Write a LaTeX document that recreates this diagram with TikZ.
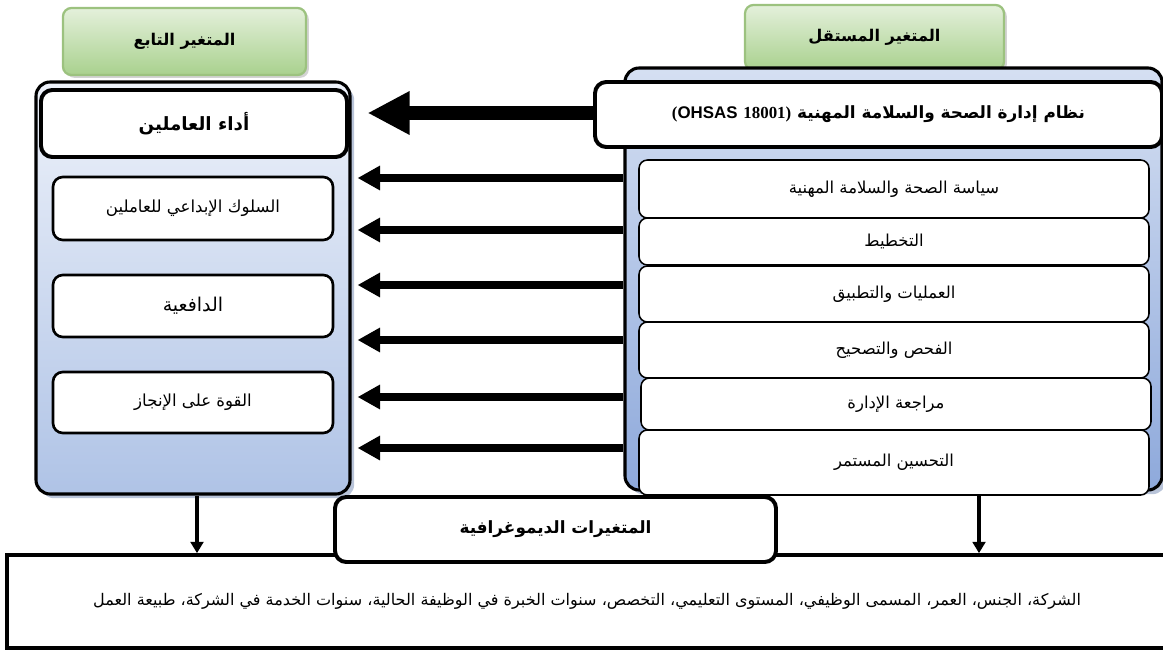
\documentclass[tikz,border=0pt]{standalone}
\usepackage{fontspec}
\newfontfamily\arabicfont[Script=Arabic]{DejaVu Sans}
\newfontfamily\latinsans{Liberation Sans}
\newfontfamily\latinserif{Liberation Serif}
\TeXXeTstate=1
\usetikzlibrary{arrows.meta,shadows}
\definecolor{grtop}{HTML}{E4F0DB}
\definecolor{grbot}{HTML}{A9D18E}
\definecolor{grline}{HTML}{9CC27F}
\definecolor{bltop}{HTML}{EEF2FA}
\definecolor{blbot}{HTML}{AFC3E6}
\definecolor{bldark}{HTML}{8EA9DB}
\newcommand{\artxt}[1]{{\arabicfont\beginR #1\endR}}
\tikzset{
  titlebox/.style={draw=grline, line width=1.6pt, rounded corners=6pt, top color=grtop, bottom color=grbot,
    drop shadow={opacity=0.35, shadow xshift=2pt, shadow yshift=-2pt}, font=\arabicfont\bfseries\fontsize{11.5}{14}\selectfont},
  frame/.style={draw, line width=2.2pt, rounded corners=10pt, drop shadow={fill=bldark!70!gray, opacity=0.6, shadow xshift=3pt, shadow yshift=-3pt}},
  headbox/.style={draw, fill=white, line width=2.8pt, rounded corners=8pt, font=\arabicfont\bfseries\fontsize{12}{15}\selectfont},
  subbox/.style={draw, fill=white, line width=1.9pt, rounded corners=7pt, font=\arabicfont\fontsize{11.8}{14}\selectfont},
  stepbox/.style={draw, fill=white, line width=1.1pt, rounded corners=6pt, font=\arabicfont\fontsize{11.7}{14}\selectfont},
  bigarr/.style={line width=9.5pt, -{Triangle[length=30pt, width=29pt]}},
  arr/.style={line width=5.8pt, -{Triangle[length=16pt, width=16.5pt]}},
  downarr/.style={line width=3pt, -{Triangle[length=8pt, width=9pt]}}
}
\begin{document}
\begin{tikzpicture}[x=0.025cm, y=-0.025cm]
\useasboundingbox (0,0) rectangle (1163,650);

% the two titles
\node[titlebox, minimum width=243*0.025cm, minimum height=67*0.025cm] (T1) at (184.5,41.5) {\artxt{المتغير التابع}};
\node[titlebox, minimum width=259*0.025cm, minimum height=65*0.025cm] (T2) at (874.5,37.5) {\artxt{المتغير المستقل}};

% dependent variable
\node[frame, top color=bltop, bottom color=blbot, minimum width=314*0.025cm, minimum height=412*0.025cm] (LC) at (193,288) {};
\node[headbox, minimum width=306*0.025cm, minimum height=67*0.025cm, font=\arabicfont\bfseries\fontsize{13}{15}\selectfont] (L0) at (194,123.5) {\artxt{أداء العاملين}};
\node[subbox, minimum width=280*0.025cm, minimum height=63*0.025cm] (L1) at (193,208.5) {\artxt{السلوك الإبداعي للعاملين}};
\node[subbox, minimum width=280*0.025cm, minimum height=62*0.025cm, font=\arabicfont\fontsize{13.5}{16}\selectfont] (L2) at (193,306) {\artxt{الدافعية}};
\node[subbox, minimum width=280*0.025cm, minimum height=61*0.025cm] (L3) at (193,402.5) {\artxt{القوة على الإنجاز}};

% independent variable
\node[frame, shading angle=20, top color=bltop!60!blbot, bottom color=bldark, minimum width=537*0.025cm, minimum height=422*0.025cm] (RC) at (893.5,279) {};
\node[headbox, minimum width=567*0.025cm, minimum height=65*0.025cm] (R0) at (878.5,114.5)
  {{\latinserif\bfseries(}{\latinsans\bfseries OHSAS} {\latinserif\bfseries 18001)} \artxt{نظام إدارة الصحة والسلامة المهنية}};
\node[stepbox, minimum width=510*0.025cm, minimum height=58*0.025cm] (R1) at (894,189) {\artxt{سياسة الصحة والسلامة المهنية}};
\node[stepbox, minimum width=510*0.025cm, minimum height=47*0.025cm] (R2) at (894,241.5) {\artxt{التخطيط}};
\node[stepbox, minimum width=510*0.025cm, minimum height=56*0.025cm] (R3) at (894,294) {\artxt{العمليات والتطبيق}};
\node[stepbox, minimum width=510*0.025cm, minimum height=56*0.025cm] (R4) at (894,350) {\artxt{الفحص والتصحيح}};
\node[stepbox, minimum width=510*0.025cm, minimum height=52*0.025cm] (R5) at (896,404) {\artxt{مراجعة الإدارة}};
\node[stepbox, minimum width=510*0.025cm, minimum height=65*0.025cm] (R6) at (894,462.5) {\artxt{التحسين المستمر}};

% demographic variables
\node[draw, fill=white, line width=2.6pt, minimum width=1160*0.025cm, minimum height=93*0.025cm,
  font=\arabicfont\fontsize{11.4}{14}\selectfont] (D1) at (587,601.5) {\artxt{الشركة، الجنس، العمر، المسمى الوظيفي، المستوى التعليمي، التخصص، سنوات الخبرة في الوظيفة الحالية، سنوات الخدمة في الشركة، طبيعة العمل}};
\node[headbox, minimum width=441*0.025cm, minimum height=65*0.025cm] (D0) at (555.5,529.5) {\artxt{المتغيرات الديموغرافية}};

% arrows
\draw[bigarr] (R0.west |- 0,113) -- (LC.east |- 0,113) [shorten >=16*0.025cm];
\foreach \y in {178,230,285,340,397,448}
  \draw[arr, shorten >=6*0.025cm] (RC.west |- 0,\y) -- (LC.east |- 0,\y);
\draw[downarr] (LC.south -| 197,0) -- (D1.north -| 197,0);
\draw[downarr] (R6.south -| 979,0) -- (D1.north -| 979,0);
\end{tikzpicture}
\end{document}
